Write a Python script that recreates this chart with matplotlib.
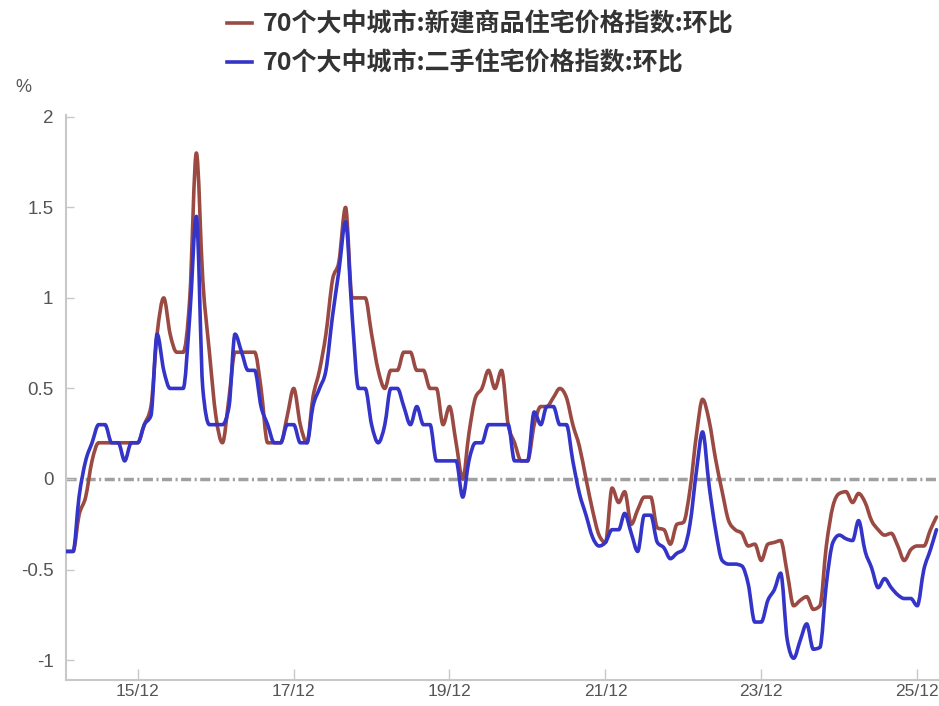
import numpy as np
import pandas as pd
import matplotlib
matplotlib.use('Agg')
import matplotlib.pyplot as plt
import matplotlib.dates as mdates
from matplotlib.path import Path
from matplotlib.patches import PathPatch
from matplotlib.lines import Line2D

plt.rcParams['font.family'] = ['Noto Sans CJK SC', 'DejaVu Sans']

# 70个大中城市 房价环比 (%), 月度 2015-01 起
new_home = [-0.4, -0.4, -0.2, -0.1, 0.1, 0.2, 0.2, 0.2, 0.2, 0.2, 0.2, 0.2,
            0.3, 0.4, 0.8, 1.0, 0.8, 0.7, 0.7, 1.0, 1.8, 1.1, 0.7, 0.35,
            0.2, 0.45, 0.7, 0.7, 0.7, 0.7, 0.5, 0.2, 0.2, 0.2, 0.35, 0.5,
            0.3, 0.2, 0.45, 0.6, 0.8, 1.1, 1.2, 1.5, 1.0, 1.0, 1.0, 0.8,
            0.6, 0.5, 0.6, 0.6, 0.7, 0.7, 0.6, 0.6, 0.5, 0.5, 0.3, 0.4,
            0.2, 0.0, 0.25, 0.45, 0.5, 0.6, 0.5, 0.6, 0.3, 0.2, 0.1, 0.1,
            0.3, 0.4, 0.4, 0.45, 0.5, 0.45, 0.3, 0.18, 0.0, -0.17, -0.31, -0.35,
            -0.05, -0.13, -0.07, -0.25, -0.17, -0.1, -0.1, -0.27, -0.28, -0.36, -0.25, -0.24,
            -0.06, 0.25, 0.44, 0.32, 0.11, -0.07, -0.23, -0.28, -0.3, -0.37, -0.36, -0.45,
            -0.36, -0.35, -0.34, -0.52, -0.7, -0.67, -0.65, -0.72, -0.7, -0.37, -0.15, -0.08,
            -0.07, -0.13, -0.08, -0.13, -0.23, -0.28, -0.31, -0.3, -0.37, -0.45, -0.39, -0.37,
            -0.37, -0.28, -0.21]

second_hand = [-0.4, -0.4, -0.1, 0.1, 0.2, 0.3, 0.3, 0.2, 0.2, 0.1, 0.2, 0.2,
               0.3, 0.35, 0.8, 0.6, 0.5, 0.5, 0.5, 0.9, 1.45, 0.5, 0.3, 0.3,
               0.3, 0.4, 0.8, 0.7, 0.6, 0.6, 0.4, 0.3, 0.2, 0.2, 0.3, 0.3,
               0.2, 0.2, 0.4, 0.5, 0.6, 0.9, 1.15, 1.42, 0.9, 0.5, 0.5, 0.3,
               0.2, 0.3, 0.5, 0.5, 0.4, 0.3, 0.4, 0.3, 0.3, 0.1, 0.1, 0.1,
               0.1, -0.1, 0.1, 0.2, 0.2, 0.3, 0.3, 0.3, 0.3, 0.1, 0.1, 0.1,
               0.37, 0.3, 0.4, 0.4, 0.3, 0.3, 0.1, -0.08, -0.2, -0.32, -0.37, -0.35,
               -0.28, -0.28, -0.19, -0.3, -0.4, -0.2, -0.2, -0.35, -0.38, -0.44, -0.41, -0.39,
               -0.25, 0.05, 0.26, -0.04, -0.28, -0.45, -0.47, -0.47, -0.48, -0.58, -0.79, -0.79,
               -0.67, -0.61, -0.52, -0.89, -0.99, -0.89, -0.8, -0.94, -0.93, -0.58, -0.35, -0.31,
               -0.33, -0.34, -0.23, -0.4, -0.49, -0.6, -0.55, -0.6, -0.64, -0.66, -0.66, -0.7,
               -0.5, -0.39, -0.28]

label_new = '70个大中城市:新建商品住宅价格指数:环比'
label_second = '70个大中城市:二手住宅价格指数:环比'
color_new = '#9a4a43'
color_second = '#3434c8'

dates = pd.date_range('2015-01-01', periods=len(new_home), freq='MS')
x = mdates.date2num(dates.to_pydatetime())


def monotone_path(xs, ys):
    # monotone cubic curve (like d3 curveMonotoneX) as bezier segments
    xs = np.asarray(xs, float)
    ys = np.asarray(ys, float)
    n = len(xs)
    h = np.diff(xs)
    s = np.diff(ys) / h
    t = np.zeros(n)
    for i in range(1, n - 1):
        p = (s[i - 1] * h[i] + s[i] * h[i - 1]) / (h[i - 1] + h[i])
        t[i] = (np.sign(s[i - 1]) + np.sign(s[i])) * min(abs(s[i - 1]), abs(s[i]), 0.5 * abs(p))
    t[0] = (3 * s[0] - t[1]) / 2
    t[-1] = (3 * s[-1] - t[-2]) / 2
    verts = [(xs[0], ys[0])]
    codes = [Path.MOVETO]
    for i in range(n - 1):
        dx = h[i] / 3
        verts += [(xs[i] + dx, ys[i] + dx * t[i]),
                  (xs[i + 1] - dx, ys[i + 1] - dx * t[i + 1]),
                  (xs[i + 1], ys[i + 1])]
        codes += [Path.CURVE4] * 3
    return Path(verts, codes)


fig = plt.figure(figsize=(9.39, 7.06), dpi=100)
ax = fig.add_axes([66 / 939, 1 - 680 / 706, 1 - 66 / 939, (680 - 115) / 706])

ax.axhline(0, color='#a0a0a0', lw=2.5, dashes=(2.9, 1.0, 0.6, 1.0), zorder=1)

for vals, col in [(new_home, color_new), (second_hand, color_second)]:
    patch = PathPatch(monotone_path(x, vals), facecolor='none', edgecolor=col,
                      lw=2.6, capstyle='round', joinstyle='round', zorder=3)
    ax.add_patch(patch)

ax.set_xlim(x[0] - 2, x[-1] + 12)
ax.set_ylim(-1.11, 2.01)

ticks = [d for d in dates if d.month == 12 and d.year % 2 == 1]
ax.set_xticks(mdates.date2num([d.to_pydatetime() for d in ticks]))
ax.set_xticklabels([d.strftime('%y/%m') for d in ticks])
ax.set_yticks([-1, -0.5, 0, 0.5, 1, 1.5, 2])
ax.set_yticklabels(['-1', '-0.5', '0', '0.5', '1', '1.5', '2'])

for side in ['top', 'right']:
    ax.spines[side].set_visible(False)
for side in ['left', 'bottom']:
    ax.spines[side].set_color('#c8c8c8')
    ax.spines[side].set_linewidth(1.5)

ax.tick_params(axis='x', direction='in', length=8, width=1, color='#c8c8c8',
               labelsize=12.5, labelcolor='#555555', pad=3)
ax.tick_params(axis='y', direction='in', length=6, width=1, color='#c8c8c8',
               labelsize=13.5, labelcolor='#555555', pad=9)
for lab in ax.get_xticklabels() + ax.get_yticklabels():
    lab.set_family(['Liberation Sans', 'DejaVu Sans'])

fig.text(23 / 939, 1 - 88 / 706, '%', fontsize=13, color='#555555',
         ha='center', va='center', family=['Liberation Sans', 'DejaVu Sans'])

handles = [Line2D([], [], color=color_new, lw=2.6),
           Line2D([], [], color=color_second, lw=2.6)]
leg = fig.legend(handles, [label_new, label_second], loc='upper left',
                 bbox_to_anchor=(214 / 939, 1 - 0 / 706), frameon=False,
                 prop={'family': ['Noto Sans CJK SC', 'DejaVu Sans'], 'weight': 'bold', 'size': 18},
                 handlelength=1.0, handletextpad=0.45, labelspacing=0.58, borderpad=0)
for t in leg.get_texts():
    t.set_color('#333333')

fig.savefig('out.png', dpi=100)
